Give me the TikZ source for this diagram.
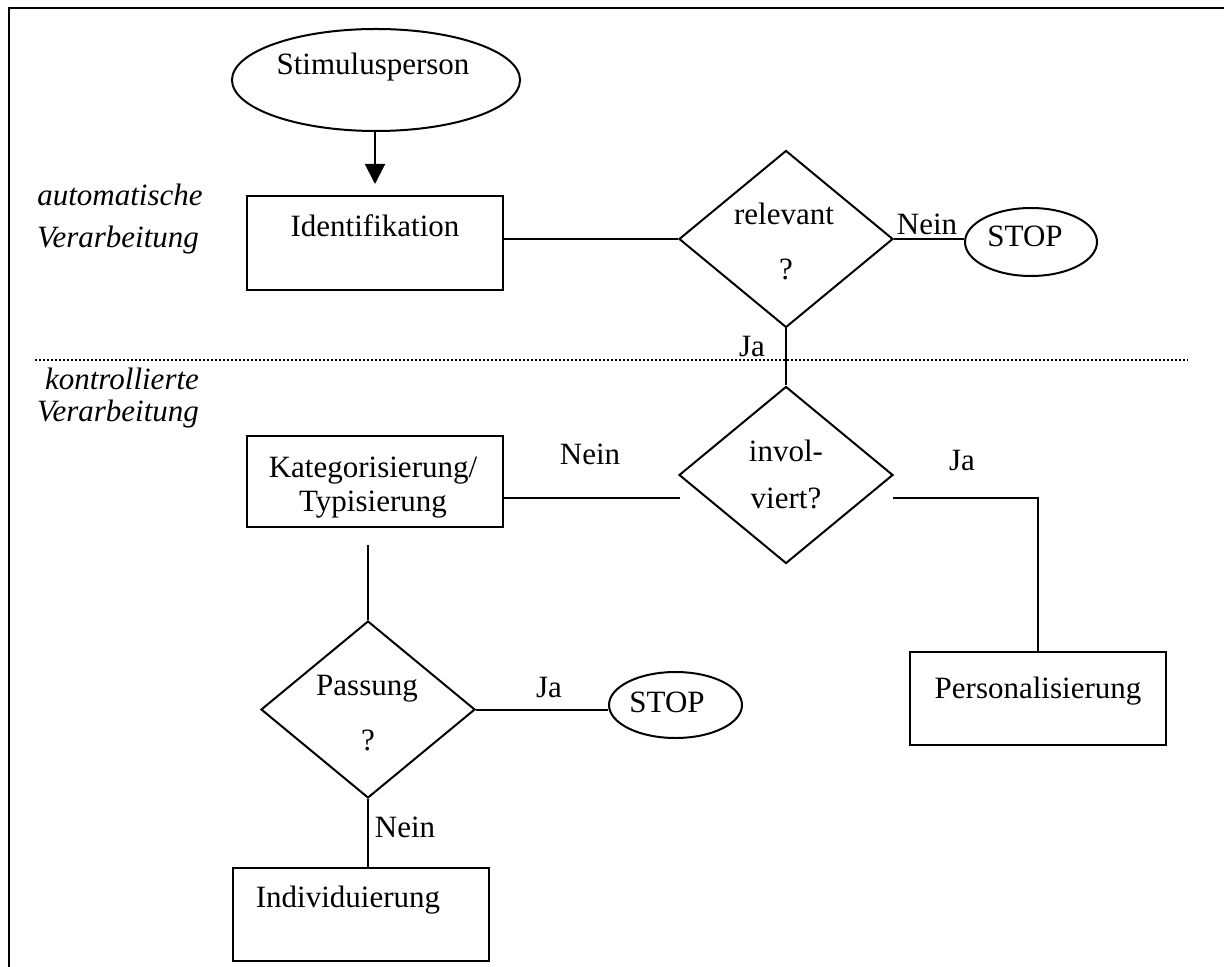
\documentclass[tikz,border=0pt]{standalone}
\usepackage{fontspec}
\setmainfont{Liberation Serif}
\usetikzlibrary{shapes.geometric,arrows.meta,calc}
\begin{document}
\begin{tikzpicture}[x=0.5pt,y=-0.5pt,
  every node/.style={font=\fontsize{15.5}{18}\selectfont},
  shapeline/.style={draw=black,line width=1pt},
  box/.style={shapeline,rectangle,inner sep=0,minimum width=128pt},
  decision/.style={shapeline,diamond,inner sep=0,minimum width=107pt,minimum height=88.5pt},
  terminal/.style={shapeline,ellipse,inner sep=0},
  txt/.style={anchor=base,inner sep=0},
  lab/.style={anchor=base,inner sep=0,font=\fontsize{15.5}{18}\selectfont\itshape},
  conn/.style={line width=1pt},
  arr/.style={conn,-{Triangle[length=10pt,width=10pt]},shorten >=5.5pt},
  frameline/.style={line width=1.3pt},
  divider/.style={line width=0.8pt,dash pattern=on 0.8pt off 1.2pt}
]
\useasboundingbox (0,0) rectangle (1224,967);
\draw[frameline] (9,967) -- (9,8) -- (1224,8);

% shapes
\node[terminal,minimum width=144pt,minimum height=51pt] (stim) at (376,80) {};
\node[box,minimum height=47pt] (ident) at (375,243) {};
\node[decision] (rel) at (786,239) {};
\node[terminal,minimum width=66pt,minimum height=34pt] (stop1) at (1031,242) {};
\node[decision] (inv) at (786,475) {};
\node[box,minimum height=45.5pt] (kat) at (375,481.5) {};
\node[box,minimum height=46.5pt] (pers) at (1038,698.5) {};
\node[decision] (pass) at (368,709.5) {};
\node[terminal,minimum width=66.5pt,minimum height=33pt] (stop2) at (675.5,705) {};
\node[box,minimum height=46.5pt] (indiv) at (361,914.5) {};

% texts
\node[txt] (t1) at (373,75) {Stimulusperson};
\node[txt] (t2) at (375,237) {Identifikation};
\node[txt] (t3) at (784,225) {relevant};
\node[txt] (t4) at (786,280) {?};
\node[txt] (t5) at (927,235) {Nein};
\node[txt] (t6) at (1025,247) {STOP};
\node[txt] (t7) at (752,357) {Ja};
\node[txt] (t8) at (786,461) {invol-};
\node[txt] (t9) at (786,508) {viert?};
\node[txt] (t10) at (590,465) {Nein};
\node[txt] (t11) at (962,470) {Ja};
\node[txt] (t12) at (373,477) {Kategorisierung/};
\node[txt] (t13) at (373,511) {Typisierung};
\node[txt] (t14) at (1038,698) {Personalisierung};
\node[txt] (t15) at (367,695) {Passung};
\node[txt] (t16) at (368,750) {?};
\node[txt] (t17) at (549,697) {Ja};
\node[txt] (t18) at (667,712) {STOP};
\node[txt] (t19) at (405,837) {Nein};
\node[txt] (t20) at (348,907) {Individuierung};
\node[lab] (l1) at (120,206) {automatische};
\node[lab] (l2) at (118,248) {Verarbeitung};
\node[lab] (l3) at (122,390) {kontrollierte};
\node[lab] (l4) at (118,422) {Verarbeitung};

% divider
\coordinate (dl) at (35,360);
\coordinate (dr) at (1188,360);
\draw[divider] (dl) -- (dr);

% connectors
\draw[arr] (stim.south -| ident.north) -- (ident.north);
\draw[conn] (ident.east |- rel.west) -- (rel.west);
\draw[conn] (rel.east) -- (rel.east -| stop1.west);
\draw[conn] (rel.south) -- (inv.north);
\coordinate (neinend) at (680,498);
\draw[conn] (kat.east |- neinend) -- (neinend);
\coordinate (jastart) at (893,498);
\draw[conn] (jastart) -| (pers.north);
\coordinate (katdown) at (368,545);
\draw[conn] (katdown) -- (pass.north);
\draw[conn] (pass.east) -- (pass.east -| stop2.west);
\draw[conn] (pass.south) -- (pass.south |- indiv.north);
\end{tikzpicture}
\end{document}
